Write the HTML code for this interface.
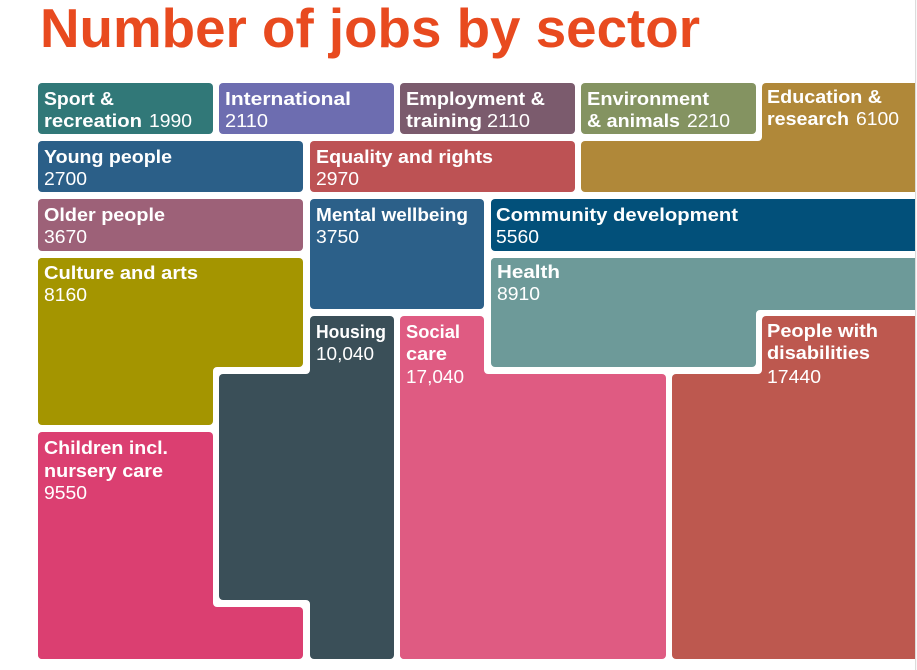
<!DOCTYPE html>
<html>
<head>
<meta charset="utf-8">
<style>
  html,body{margin:0;padding:0;background:#fff;}
  svg{display:block;}
  .t{font-family:"Liberation Sans",Arial,sans-serif;font-size:18.5px;fill:#ffffff;}
  .b{font-weight:bold;}
</style>
</head>
<body>
<svg width="917" height="670" viewBox="0 0 917 670" xmlns="http://www.w3.org/2000/svg">
  <rect x="0" y="0" width="917" height="670" fill="#ffffff"/>
  <text x="40" y="47" font-family="Liberation Sans, Arial, sans-serif" font-weight="bold" font-size="55" fill="#e84a1f" textLength="660" lengthAdjust="spacingAndGlyphs">Number of jobs by sector</text>

  <!-- Row 1 -->
  <rect x="38" y="83" width="175" height="51" rx="4" fill="#317878"/>
  <rect x="219" y="83" width="175" height="51" rx="4" fill="#6d6db0"/>
  <rect x="400" y="83" width="175" height="51" rx="4" fill="#7b5b6d"/>
  <rect x="581" y="83" width="175" height="51" rx="4" fill="#849361"/>
  <!-- Education -->
  <g fill="#b08839">
    <rect x="762" y="83" width="160" height="109" rx="4"/>
    <rect x="581" y="141" width="340" height="51" rx="4"/>
    <path d="M762,141 L758,141 A4,4 0 0 0 762,137 Z"/>
  </g>

  <!-- Row 2 -->
  <rect x="38" y="141" width="265" height="51" rx="4" fill="#2b5f88"/>
  <rect x="310" y="141" width="265" height="51" rx="4" fill="#bd5254"/>

  <!-- Row 3 -->
  <rect x="38" y="199" width="265" height="52" rx="4" fill="#9d6178"/>
  <rect x="310" y="199" width="174" height="110" rx="4" fill="#2c6089"/>
  <rect x="491" y="199" width="430" height="52" rx="4" fill="#02507a"/>

  <!-- Culture -->
  <g fill="#a49500">
    <rect x="38" y="258" width="265" height="109" rx="4"/>
    <rect x="38" y="258" width="175" height="167" rx="4"/>
    <path d="M213,367 L217,367 A4,4 0 0 0 213,371 Z"/>
  </g>
  <!-- Health -->
  <g fill="#6d9a99">
    <rect x="491" y="258" width="430" height="52" rx="4"/>
    <rect x="491" y="258" width="265" height="109" rx="4"/>
    <path d="M756,310 L760,310 A4,4 0 0 0 756,314 Z"/>
  </g>
  <!-- Housing -->
  <g fill="#3a4f58">
    <rect x="310" y="316" width="84" height="343" rx="4"/>
    <rect x="219" y="374" width="175" height="226" rx="4"/>
    <path d="M310,374 L306,374 A4,4 0 0 0 310,370 Z"/>
    <path d="M310,600 L306,600 A4,4 0 0 1 310,604 Z"/>
  </g>
  <!-- Social care -->
  <g fill="#df5b82">
    <rect x="400" y="316" width="84" height="343" rx="4"/>
    <rect x="400" y="374" width="266" height="285" rx="4"/>
    <path d="M484,374 L488,374 A4,4 0 0 1 484,370 Z"/>
  </g>
  <!-- People with disabilities -->
  <g fill="#bd584f">
    <rect x="762" y="316" width="160" height="343" rx="4"/>
    <rect x="672" y="374" width="250" height="285" rx="4"/>
    <path d="M762,374 L758,374 A4,4 0 0 0 762,370 Z"/>
  </g>
  <!-- Children -->
  <g fill="#db3f71">
    <rect x="38" y="432" width="175" height="227" rx="4"/>
    <rect x="38" y="607" width="265" height="52" rx="4"/>
    <path d="M213,607 L217,607 A4,4 0 0 1 213,603 Z"/>
  </g>

  <!-- right edge clip + line -->
  <rect x="915" y="0" width="2" height="670" fill="#ffffff"/>
  <rect x="915" y="0" width="1.2" height="670" fill="#dcdcdc"/>

  <!-- Labels -->
  <text class="t b" x="44" y="105" textLength="70" lengthAdjust="spacingAndGlyphs">Sport &amp;</text>
  <text class="t b" x="44" y="127" textLength="98" lengthAdjust="spacingAndGlyphs">recreation</text>
  <text class="t" x="149" y="127" textLength="43" lengthAdjust="spacingAndGlyphs">1990</text>

  <text class="t b" x="225" y="105" textLength="126" lengthAdjust="spacingAndGlyphs">International</text>
  <text class="t" x="225" y="127" textLength="43" lengthAdjust="spacingAndGlyphs">2110</text>

  <text class="t b" x="406" y="105" textLength="139" lengthAdjust="spacingAndGlyphs">Employment &amp;</text>
  <text class="t b" x="406" y="127" textLength="76" lengthAdjust="spacingAndGlyphs">training</text>
  <text class="t" x="487" y="127" textLength="43" lengthAdjust="spacingAndGlyphs">2110</text>

  <text class="t b" x="587" y="105" textLength="122" lengthAdjust="spacingAndGlyphs">Environment</text>
  <text class="t b" x="587" y="127" textLength="93" lengthAdjust="spacingAndGlyphs">&amp; animals</text>
  <text class="t" x="687" y="127" textLength="43" lengthAdjust="spacingAndGlyphs">2210</text>

  <text class="t b" x="767" y="103" textLength="115" lengthAdjust="spacingAndGlyphs">Education &amp;</text>
  <text class="t b" x="767" y="125" textLength="82" lengthAdjust="spacingAndGlyphs">research</text>
  <text class="t" x="856" y="125" textLength="43" lengthAdjust="spacingAndGlyphs">6100</text>

  <text class="t b" x="44" y="163" textLength="128" lengthAdjust="spacingAndGlyphs">Young people</text>
  <text class="t" x="44" y="185" textLength="43" lengthAdjust="spacingAndGlyphs">2700</text>

  <text class="t b" x="316" y="163" textLength="177" lengthAdjust="spacingAndGlyphs">Equality and rights</text>
  <text class="t" x="316" y="185" textLength="43" lengthAdjust="spacingAndGlyphs">2970</text>

  <text class="t b" x="44" y="221" textLength="121" lengthAdjust="spacingAndGlyphs">Older people</text>
  <text class="t" x="44" y="243" textLength="43" lengthAdjust="spacingAndGlyphs">3670</text>

  <text class="t b" x="316" y="221" textLength="152" lengthAdjust="spacingAndGlyphs">Mental wellbeing</text>
  <text class="t" x="316" y="243" textLength="43" lengthAdjust="spacingAndGlyphs">3750</text>

  <text class="t b" x="496" y="221" textLength="242" lengthAdjust="spacingAndGlyphs">Community development</text>
  <text class="t" x="496" y="243" textLength="43" lengthAdjust="spacingAndGlyphs">5560</text>

  <text class="t b" x="44" y="279" textLength="154" lengthAdjust="spacingAndGlyphs">Culture and arts</text>
  <text class="t" x="44" y="301" textLength="43" lengthAdjust="spacingAndGlyphs">8160</text>

  <text class="t b" x="497" y="278" textLength="63" lengthAdjust="spacingAndGlyphs">Health</text>
  <text class="t" x="497" y="300" textLength="43" lengthAdjust="spacingAndGlyphs">8910</text>

  <text class="t b" x="316" y="338" textLength="70" lengthAdjust="spacingAndGlyphs">Housing</text>
  <text class="t" x="316" y="360" textLength="58" lengthAdjust="spacingAndGlyphs">10,040</text>

  <text class="t b" x="406" y="338" textLength="54" lengthAdjust="spacingAndGlyphs">Social</text>
  <text class="t b" x="406" y="360" textLength="41" lengthAdjust="spacingAndGlyphs">care</text>
  <text class="t" x="406" y="383" textLength="58" lengthAdjust="spacingAndGlyphs">17,040</text>

  <text class="t b" x="767" y="337" textLength="111" lengthAdjust="spacingAndGlyphs">People with</text>
  <text class="t b" x="767" y="359" textLength="103" lengthAdjust="spacingAndGlyphs">disabilities</text>
  <text class="t" x="767" y="383" textLength="54" lengthAdjust="spacingAndGlyphs">17440</text>

  <text class="t b" x="44" y="454" textLength="124" lengthAdjust="spacingAndGlyphs">Children incl.</text>
  <text class="t b" x="44" y="477" textLength="119" lengthAdjust="spacingAndGlyphs">nursery care</text>
  <text class="t" x="44" y="499" textLength="43" lengthAdjust="spacingAndGlyphs">9550</text>
</svg>
</body>
</html>
